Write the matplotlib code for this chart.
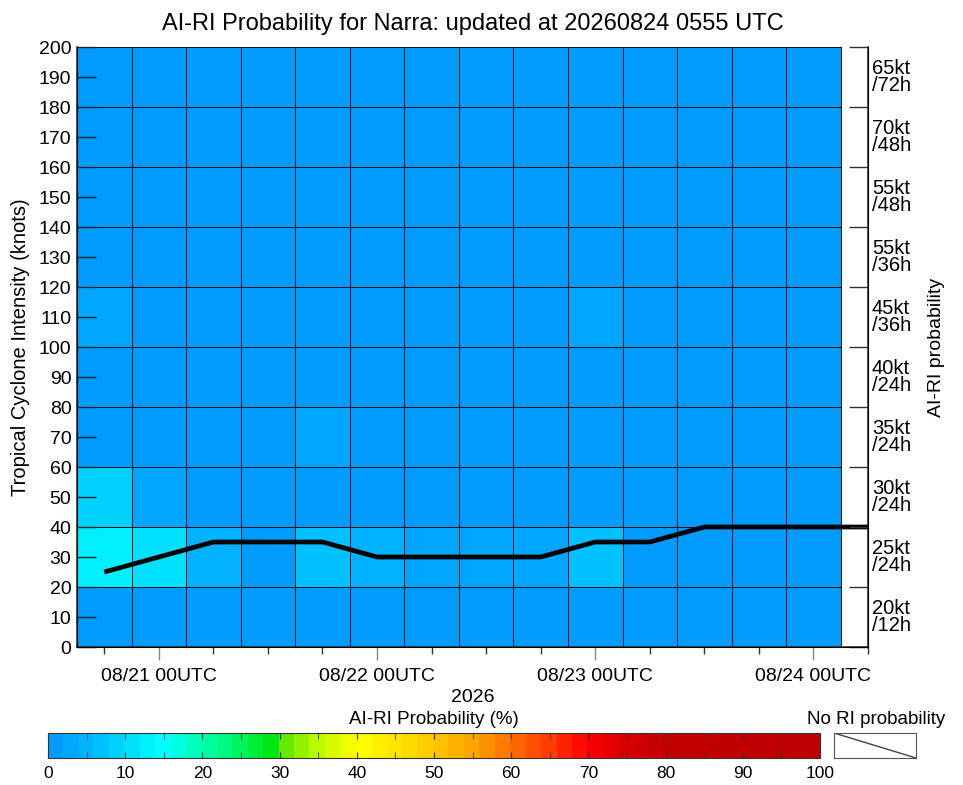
import matplotlib
matplotlib.use("Agg")
import matplotlib.pyplot as plt
import matplotlib.dates as mdates
from matplotlib.colors import LinearSegmentedColormap, ListedColormap, BoundaryNorm
from matplotlib.cm import ScalarMappable
import numpy as np
from datetime import datetime, timedelta

plt.rcParams['font.family'] = ['Liberation Sans', 'DejaVu Sans']
narrow = ['Liberation Sans Narrow', 'Liberation Sans', 'DejaVu Sans']

# cell centres every 6 h, first one 08/20 18UTC
cellTimes = [datetime(2026, 8, 20, 18) + timedelta(hours=6 * i) for i in range(14)]
intensityBins = [0, 20, 40, 60, 80, 100, 120, 140, 160, 180, 200]

# RI probability (%) per intensity row (bottom row first), one value per cell time
probRows = [
    [0.5, 0.5, 0.5, 0.5, 0.5, 0.5, 0.5, 0.5, 0.5, 0.5, 0.5, 0.5, 0.5, 0.5],
    [13, 11, 5, 1.5, 7, 5, 3, 3, 2, 6, 1.5, 0.5, 0.5, 0.5],
    [8, 3.5, 0.5, 0.5, 0.5, 0.5, 0.5, 1.5, 0.5, 0.5, 0.5, 0.5, 0.5, 0.5],
    [0.5, 0.5, 0.5, 0.5, 2.5, 0.5, 0.5, 0.5, 0.5, 0.5, 0.5, 0.5, 0.5, 0.5],
    [0.5, 0.5, 0.5, 0.5, 0.5, 0.5, 0.5, 0.5, 0.5, 0.5, 0.5, 0.5, 0.5, 0.5],
    [2.5, 1.5, 1.5, 0.5, 0.5, 1.5, 0.5, 0.5, 0.5, 2.5, 0.5, 0.5, 0.5, 0.5],
    [0.5, 0.5, 0.5, 0.5, 0.5, 0.5, 0.5, 0.5, 0.5, 0.5, 0.5, 0.5, 0.5, 0.5],
    [0.5, 0.5, 0.5, 0.5, 0.5, 0.5, 0.5, 0.5, 0.5, 0.5, 0.5, 0.5, 0.5, 0.5],
    [0.5, 0.5, 0.5, 0.5, 0.5, 0.5, 0.5, 0.5, 0.5, 0.5, 0.5, 0.5, 0.5, 0.5],
    [0.5, 0.5, 0.5, 0.5, 0.5, 0.5, 0.5, 0.5, 0.5, 0.5, 0.5, 0.5, 0.5, 0.5],
]
riLabels = ["20kt\n/12h", "25kt\n/24h", "30kt\n/24h", "35kt\n/24h", "40kt\n/24h",
            "45kt\n/36h", "55kt\n/36h", "55kt\n/48h", "70kt\n/48h", "65kt\n/72h"]

# intensity forecast line
trackTimes = [datetime(2026, 8, 20, 18) + timedelta(hours=6 * i) for i in range(15)]
trackKt = [25, 30, 35, 35, 35, 30, 30, 30, 30, 35, 35, 40, 40, 40, 40]

# colour table anchors (value, rgb 0-255)
cmapAnchors = [(0, (0, 150, 255)), (5, (0, 180, 255)), (15, (0, 255, 255)),
               (20, (0, 255, 170)), (25, (0, 245, 95)), (30, (0, 228, 0)),
               (30.1, (85, 230, 0)), (35, (190, 250, 0)), (40, (255, 255, 0)),
               (45, (255, 230, 0)), (50, (255, 200, 0)), (55, (255, 165, 0)),
               (60, (255, 115, 0)), (65, (255, 60, 0)), (70, (255, 0, 0)),
               (75, (215, 0, 0)), (80, (195, 0, 0)), (100, (190, 0, 0))]

smooth = LinearSegmentedColormap.from_list(
    "airi", [(v / 100, tuple(c / 255 for c in rgb)) for v, rgb in cmapAnchors])
nBands = 50
bandColors = [smooth((i + 0.5) / nBands) for i in range(nBands)]
cmap = ListedColormap(bandColors)
levels = np.linspace(0, 100, nBands + 1)
norm = BoundaryNorm(levels, cmap.N)

fig = plt.figure(figsize=(9.63, 7.85), dpi=100)
W, H = 963, 785
ax = fig.add_axes([77 / W, 1 - 647 / H, (868 - 77) / W, 600 / H])

tEdges = [cellTimes[0] - timedelta(hours=3) + timedelta(hours=6 * i) for i in range(15)]
xEdges = mdates.date2num(tEdges)
ax.pcolormesh(xEdges, intensityBins, np.array(probRows), cmap=cmap, norm=norm,
              edgecolor='#111111', linewidth=0.6)
ax.plot(mdates.date2num(trackTimes), trackKt, color='black', lw=3.4, clip_on=False,
        solid_capstyle='butt', zorder=5)

xStart = mdates.date2num(datetime(2026, 8, 20, 15))
xEnd = mdates.date2num(datetime(2026, 8, 24, 6))
ax.set_xlim(xStart, xEnd)
ax.set_ylim(0, 200)

ax.xaxis.set_major_locator(mdates.HourLocator(byhour=[0]))
ax.xaxis.set_minor_locator(mdates.HourLocator(byhour=[6, 12, 18]))
ax.xaxis.set_major_formatter(mdates.DateFormatter('%m/%d %HUTC'))
ax.tick_params(axis='x', which='major', direction='out', length=9, width=1,
               color='#888888', labelsize=14, pad=6)
ax.tick_params(axis='x', which='minor', direction='out', length=5, width=1,
               color='#333333')
ax.set_yticks(range(0, 201, 10))
ax.tick_params(axis='y', which='major', direction='in', length=14, width=1,
               labelsize=14, pad=4, color='#222222')
ax.spines['top'].set_visible(False)
for s in ['left', 'bottom', 'right']:
    ax.spines[s].set_color('#333333')
    ax.spines[s].set_linewidth(1.2)
ax.set_ylabel('Tropical Cyclone Intensity (knots)', fontsize=14.5, labelpad=6)
ax.set_xlabel('2026', fontsize=14, labelpad=3)
ax.set_title('AI-RI Probability for Narra: updated at 20260824 0555 UTC',
             fontsize=17, pad=12)

ax2 = ax.twinx()
ax2.set_ylim(0, 200)
ax2.set_yticks(intensityBins)
ax2.set_yticklabels([])
ax2.tick_params(axis='y', direction='in', length=14, width=1, color='#333333')
ax2.spines['top'].set_visible(False)
for i, lab in enumerate(riLabels):
    ax2.text(1.005, intensityBins[i] + 10, lab, transform=ax2.get_yaxis_transform(),
             ha='left', va='center', fontsize=14.5, linespacing=0.83)
ax2.set_ylabel('AI-RI probability', fontsize=14, labelpad=40)

# colour bar
cax = fig.add_axes([48 / W, 1 - 758 / H, (820 - 48) / W, 25 / H])
cb = fig.colorbar(ScalarMappable(norm=norm, cmap=cmap), cax=cax, orientation='horizontal')
cb.solids.set_edgecolor('face')
cb.solids.set_linewidth(0.3)
cb.set_ticks(range(0, 101, 10))
cb.set_ticklabels([str(v) for v in range(0, 101, 10)], fontfamily=narrow)
cax.xaxis.set_minor_locator(matplotlib.ticker.MultipleLocator(5))
cax.tick_params(axis='x', which='both', direction='in', length=4, top=True,
                bottom=True, labelsize=12.5, pad=6, color='#333333')
cb.outline.set_edgecolor('#333333')
fig.text(434 / W, 1 - 719 / H, 'AI-RI Probability (%)', ha='center', va='center',
         fontsize=13.5, family=narrow)

nax = fig.add_axes([834 / W, 1 - 758 / H, 82 / W, 25 / H])
nax.plot([0, 1], [1, 0], color='#444444', lw=1)
nax.set_xlim(0, 1)
nax.set_ylim(0, 1)
nax.set_xticks([])
nax.set_yticks([])
for s in nax.spines.values():
    s.set_color('#555555')
fig.text(876 / W, 1 - 719 / H, 'No RI probability', ha='center', va='center',
         fontsize=13.5, family=narrow)

fig.savefig('out.png', dpi=100)
